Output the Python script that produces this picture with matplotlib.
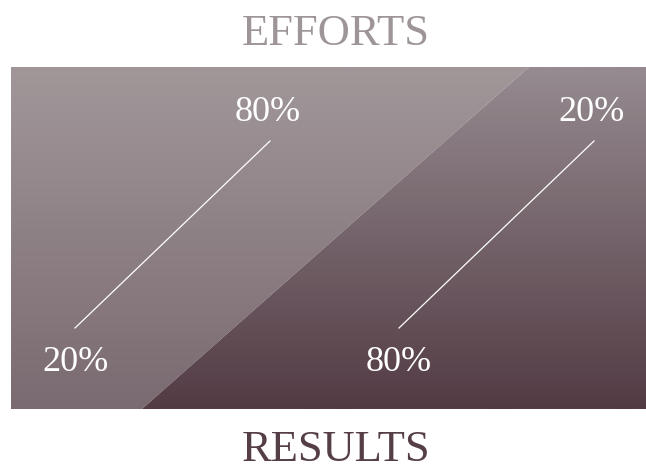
import numpy as np
import matplotlib.pyplot as plt
from matplotlib.patches import Polygon
from matplotlib.colors import LinearSegmentedColormap

# 80/20 rule data
efforts = [80, 20]
results = [20, 80]
top_title = "EFFORTS"
bottom_title = "RESULTS"

W, H = 646, 471
fig = plt.figure(figsize=(W / 100, H / 100), dpi=100)
ax = fig.add_axes([0, 0, 1, 1])
ax.set_xlim(0, W)
ax.set_ylim(H, 0)
ax.axis('off')

# panel box and diagonal split
x0, x1, y0, y1 = 11, 646, 67, 409
diag_top, diag_bot = 529, 142

grad = np.linspace(0, 1, 256).reshape(-1, 1)
left_cmap = LinearSegmentedColormap.from_list('l', ['#a19799', '#7a6a71'])
right_cmap = LinearSegmentedColormap.from_list('r', ['#958b90', '#533b44'])

left_poly = Polygon([(x0, y0), (diag_top, y0), (diag_bot, y1), (x0, y1)],
                    closed=True, facecolor='none', edgecolor='none')
right_poly = Polygon([(diag_top, y0), (x1, y0), (x1, y1), (diag_bot, y1)],
                     closed=True, facecolor='none', edgecolor='none')
ax.add_patch(left_poly)
ax.add_patch(right_poly)

im = ax.imshow(grad, cmap=left_cmap, aspect='auto', extent=[x0, x1, y1, y0])
im.set_clip_path(left_poly)
im2 = ax.imshow(grad, cmap=right_cmap, aspect='auto', extent=[x0, x1, y1, y0])
im2.set_clip_path(right_poly)

serif = ['Liberation Serif', 'DejaVu Serif']

# titles
ax.text(336, 45, top_title, ha='center', va='baseline', fontsize=32,
        color='#9e9599', family=serif)
ax.text(336, 461, bottom_title, ha='center', va='baseline', fontsize=32,
        color='#553e47', family=serif)

# connector lines and percentages
col_offset = 324
for i, (e, r) in enumerate(zip(efforts, results)):
    bx = 75 + i * col_offset
    tx = 270 + i * col_offset
    ax.plot([bx, tx], [328, 141], color='white', lw=0.9)
    ax.text(tx - 2, 121, f"{e}%", ha='center', va='baseline', fontsize=26,
            color='white', family=serif)
    ax.text(bx, 371, f"{r}%", ha='center', va='baseline', fontsize=26,
            color='white', family=serif)

fig.savefig('out.png', dpi=100)
